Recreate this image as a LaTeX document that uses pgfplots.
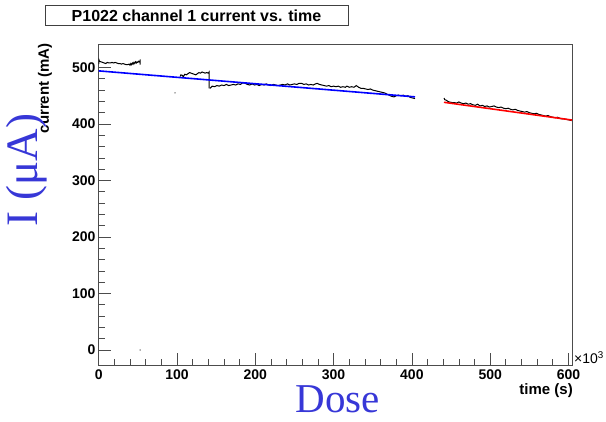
\documentclass[border=0pt]{standalone}
\usepackage{pgfplots}
\pgfplotsset{compat=1.18}
\usepackage{fontspec}
\setmainfont{Liberation Sans}
\newfontfamily\serifblue{Liberation Serif}
\definecolor{dose}{RGB}{55,55,215}
\begin{document}
\begin{tikzpicture}[x=1pt,y=1pt]
\path[use as bounding box] (0,0) rectangle (606,422);
\begin{axis}[
  name=ax,
  at={(98.7pt,57pt)}, anchor=south west,
  scale only axis, width=473.3pt, height=321pt,
  xmin=0, xmax=604.5, ymin=-26.5, ymax=541.6,
  xtick={0,100,...,600}, ytick={0,100,...,500},
  minor x tick num=4, minor y tick num=4,
  xtick pos=bottom, ytick pos=left, tick align=inside,
  major tick length=12pt, minor tick length=6pt,
  every tick/.style={black!70, line width=0.7pt},
  axis line style={black!70, line width=0.8pt},
  ticklabel style={font=\fontsize{14}{16}\selectfont\bfseries},
  /pgf/number format/assume math mode=true,
  xticklabel style={inner sep=0pt, yshift=-5pt},
  yticklabel style={inner sep=0pt, xshift=-3pt},
  scaled x ticks=false, scaled y ticks=false,
  clip=true,
]
\addplot[black, line width=1pt] coordinates {
(0,506)(0.5,513)(1,511)(3,510)(5,509)(7,508)(9,507)(11,509)(13,508)(15,508)(17,509)(19,508)(21,509)(23,508)(25,507)(27,507)(29,506)(31,507)(33,506)(35,505)(37,505)(39,506)(40,504)(41,507)(42,505)(43,508)(44,506)(45,509)(46,507)(47,510)(48,508)(49,510)(50,509)(51,511)(52,510)(53,512)(53,505)(53,514)
};
\addplot[black, line width=1pt] coordinates {
(104,484)(105,487)(107,486)(108,483)(109,486)(110,488)(112,487)(114,489)(116,491)(118,490)(120,489)(122,488)(124,487)(126,489)(128,491)(130,490)(132,492)(134,491)(136,490)(138,491)(140,490)(141,492)(141,463)
};
\addplot[black, line width=1pt] coordinates {
(142,463)(145,467)(148,466)(151,468)(154,467)(157,469)(160,468)(163,470)(166,468)(169,469)(172,470)(175,469)(178,471)(181,470)(184,473)(187,472)(190,470)(193,469)(196,471)(199,469)(202,470)(205,468)(208,470)(211,469)(214,471)(217,469)(220,468)(223,470)(226,469)(229,468)(232,469)(235,470)(238,469)(241,471)(244,469)(247,470)(250,471)(253,470)(256,472)(259,472)(262,470)(265,471)(268,469)(271,470)(274,469)(277,471)(279,472)(282,470)(285,469)(288,468)(291,467)(294,468)(297,466)(300,467)(303,466)(306,467)(309,465)(312,466)(315,465)(317,467)(320,465)(323,466)(326,465)(329,468)(332,465)(335,463)(338,463)(341,462)(344,461)(347,462)(350,460)(353,459)(356,458)(359,457)(362,456)(365,455)(368,453)(371,451)(374,449)(377,448)(380,450)(383,451)(386,450)(389,451)(392,449)(395,450)(398,447)(401,446)(404,445)
};
\addplot[black, line width=1pt] coordinates {
(441,446)(442,443)(444,442)(446,440)(448,439)(451,438)(454,438)(457,437)(460,439)(463,437)(466,436)(469,437)(472,435)(475,436)(478,434)(481,433)(484,435)(487,432)(490,433)(493,431)(496,432)(499,430)(502,431)(505,432)(508,430)(511,429)(514,430)(517,428)(520,427)(523,428)(526,426)(529,425)(532,426)(535,424)(538,423)(541,422)(544,421)(547,422)(550,420)(553,419)(556,418)(559,419)(562,417)(565,416)(568,415)(571,414)(574,415)(577,413)(580,412)(583,411)(586,412)(589,410)(592,409)(595,409)(598,408)(601,407)(604,406)
};
\addplot[blue, line width=1.6pt] coordinates {(0,494)(404,448)};
\addplot[red, line width=1.6pt] coordinates {(441,438.4)(604.5,407)};
\addplot[only marks, mark=*, mark size=0.5pt, gray] coordinates {(97.5,455)(53,0)};
\end{axis}
\node[anchor=west, font=\fontsize{14}{16}\selectfont, inner sep=0pt] at ([xshift=2pt, yshift=7pt]ax.south east) {×10\textsuperscript{3}};
\node[draw=black!75, line width=0.8pt, minimum width=303pt, minimum height=20.7pt, inner sep=0pt, font=\fontsize{16}{18}\selectfont\bfseries] at (196.5,406.7) {P1022 channel 1 current vs. time};
\node[rotate=90, anchor=east, inner sep=0pt, font=\fontsize{15}{17}\selectfont\bfseries] at (45,379) {current (mA)};
\node[anchor=east, inner sep=0pt, font=\fontsize{15}{17}\selectfont\bfseries] at (573,31) {time (s)};
\node[rotate=90, text=dose, inner sep=0pt, font=\serifblue\fontsize{45}{45}\selectfont] at (27,252) {I (μA)};
\node[text=dose, inner sep=0pt, font=\serifblue\fontsize{41}{41}\selectfont] at (338,23) {Dose};
\end{tikzpicture}
\end{document}
